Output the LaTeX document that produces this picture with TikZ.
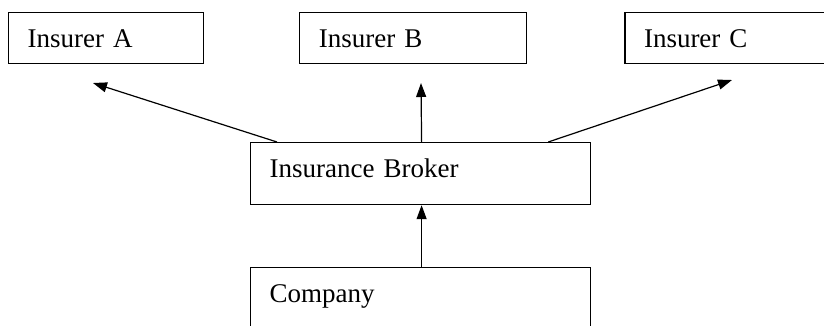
\documentclass[tikz,border=0pt]{standalone}
\usepackage{fontspec}
\setmainfont{Liberation Serif}
\usepackage{tikz}
\usetikzlibrary{positioning,arrows.meta}
\tikzset{
  boxstyle/.style={rectangle, draw=black, line width=1.2pt, inner xsep=19pt, inner ysep=0pt,
    text height=35pt, text depth=16pt, align=left, font=\fontsize{27}{32}\selectfont},
  arrowstyle/.style={-{Triangle[length=14pt,width=10pt]}, black, line width=1.2pt}
}

\begin{document}
\begin{tikzpicture}[x=1pt, y=-1pt]
  \path[use as bounding box, clip] (0,0) rectangle (824,325);
  \node[boxstyle, text width=157pt, anchor=north west] (a) at (8,12) {Insurer A};
  \node[boxstyle, text width=189pt, right=95pt of a] (b) {Insurer B};
  \node[boxstyle, text width=202pt, right=97pt of b] (c) {Insurer C};
  \node[boxstyle, text width=302pt, text depth=27pt, anchor=north west] (broker) at (250,142) {Insurance Broker};
  \node[boxstyle, text width=302pt, text depth=40pt, below=62pt of broker] (company) {Company};
  \coordinate (tipa) at (93,83);
  \coordinate (tipb) at (421,83);
  \coordinate (tipc) at (732,80);
  \draw[arrowstyle] ([xshift=27pt]broker.north west) -- (tipa);
  \draw[arrowstyle] ([xshift=1pt]broker.north) -- (tipb);
  \draw[arrowstyle] ([xshift=-43pt]broker.north east) -- (tipc);
  \draw[arrowstyle] ([xshift=1pt]company.north) -- ([xshift=1pt]broker.south);
\end{tikzpicture}
\end{document}
